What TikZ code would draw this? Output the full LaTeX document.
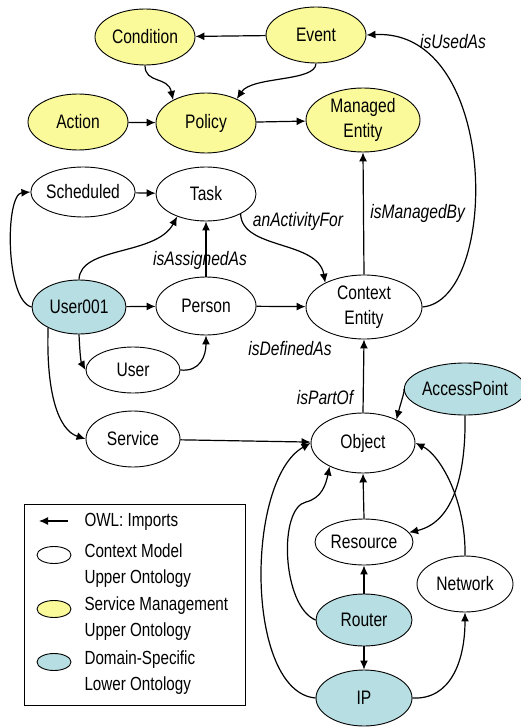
\documentclass[tikz,border=0pt]{standalone}
\usepackage{fontspec}
\setmainfont{Liberation Sans}[FakeStretch=0.8]
\usetikzlibrary{shapes.geometric,arrows.meta}

\definecolor{smyellow}{RGB}{250,250,155}
\definecolor{dsteal}{RGB}{183,222,226}

\tikzset{
  onto/.style={ellipse, draw=black, line width=0.9pt, inner sep=0pt,
    align=center, font=\fontsize{19.5}{25}\selectfont},
  ctx/.style={onto, fill=white},
  svc/.style={onto, fill=smyellow},
  dom/.style={onto, fill=dsteal},
  imp/.style={line width=1.2pt, -{Latex[length=9pt,width=8pt]}},
  rel/.style={font=\fontsize{19.5}{25}\selectfont\itshape},
  legtext/.style={anchor=west, align=left, font=\fontsize{19}{26}\selectfont},
}

\begin{document}
\begin{tikzpicture}[x=1pt,y=-1pt]
\useasboundingbox (0,0) rectangle (520,727);

% ---- service management upper ontology ----
\node[svc, minimum width=100pt, minimum height=56pt] (condition) at (145,37) {Condition};
\node[svc, minimum width=100pt, minimum height=56pt] (event) at (316,35) {Event};
\node[svc, minimum width=100pt, minimum height=56pt] (action) at (78,122) {Action};
\node[svc, minimum width=100pt, minimum height=60pt] (policy) at (206,123) {Policy};
\node[svc, minimum width=114pt, minimum height=64pt] (managed) at (363,120) {Managed\\Entity};

% ---- context model upper ontology ----
\node[ctx, minimum width=94pt, minimum height=50pt] (scheduled) at (83,192) {Scheduled};
\node[ctx, minimum width=100pt, minimum height=54pt] (task) at (206,194) {Task};
\node[ctx, minimum width=100pt, minimum height=58pt] (person) at (206,306) {Person};
\node[ctx, minimum width=116pt, minimum height=64pt] (context) at (364,307) {Context\\Entity};
\node[ctx, minimum width=94pt, minimum height=46pt] (user) at (133,370) {User};
\node[ctx, minimum width=94pt, minimum height=56pt] (service) at (133,439) {Service};
\node[ctx, minimum width=104pt, minimum height=60pt] (object) at (363,443) {Object};
\node[ctx, minimum width=98pt, minimum height=46pt] (resource) at (364,542) {Resource};
\node[ctx, minimum width=96pt, minimum height=56pt] (network) at (465,584) {Network};

% ---- domain-specific lower ontology ----
\node[dom, minimum width=94pt, minimum height=54pt] (user001) at (79,307) {User001};
\node[dom, minimum width=104pt, minimum height=52pt] (ap) at (465,389) {AccessPoint};
\node[dom, minimum width=96pt, minimum height=52pt] (router) at (364,620) {Router};
\node[dom, minimum width=96pt, minimum height=56pt] (ip) at (364,698) {IP};

% ---- imports between ontology classes ----
\draw[imp] (event) -- (condition);
\draw[imp] (condition.south) .. controls (145,84) and (168,76) .. (policy.145);
\draw[imp] (event.south) .. controls (316,82) and (252,76) .. (policy.38);
\draw[imp] (action) -- (policy);
\draw[imp] (policy) -- (managed);

\draw[imp] (context.north) -- node[rel, right, xshift=3pt] {isManagedBy} (managed.south);
\draw[imp] (context.east) .. controls (500,300) and (500,28) .. (event.east);
\node[rel] (lblused) at (453,42) {isUsedAs};

\draw[imp] (scheduled) -- (task);
\draw[imp] (user001.west) .. controls (5,300) and (5,194) .. (scheduled.west);
\draw[imp] (user001.north) .. controls (80,246) and (156,256) .. (task.218);
\draw[imp] (person.north) -- (task.south);
\node[rel] (lblassigned) at (200,260) {isAssignedAs};
\draw[imp] (task.-30) .. controls (242,250) and (318,240) .. (context.148);
\node[rel] (lblactivity) at (298,221) {anActivityFor};

\draw[imp] (user001) -- (person);
\draw[imp] (person) -- (context);
\node[rel] (lbldefined) at (290,349) {isDefinedAs};

\draw[imp] (user001.south) .. controls (80,356) and (81,362) .. (user.west);
\draw[imp] (user.east) .. controls (200,372) and (206,356) .. (person.south);
\draw[imp] (user001.-146) .. controls (46,392) and (58,430) .. (service.west);
\draw[imp] (service) -- (object);

\draw[imp] (object.north) -- (context.south);
\node[rel] (lblpart) at (325,398) {isPartOf};

\draw[imp] (ap.west) .. controls (405,391) and (401,402) .. (object.35);
\draw[imp] (ap.south) .. controls (466,470) and (455,522) .. (resource.12);
\draw[imp] (resource.north) -- (object.south);
\draw[imp] (router.north) -- (resource.south);
\draw[imp] (router.south) -- (ip.north);
\draw[imp] (router.west) .. controls (282,606) and (278,508) .. (306,502)
                          .. controls (322,498) and (326,484) .. (object.-145);
\draw[imp] (ip.west) .. controls (245,692) and (245,480) .. (object.west);
\draw[imp] (ip.east) .. controls (450,700) and (465,662) .. (network.south);
\draw[imp] (network.north) .. controls (466,500) and (440,455) .. (object.east);

% ---- legend ----
\node[draw=black, line width=0.9pt, minimum width=221pt, minimum height=201pt,
      inner sep=0pt] (legend) at (134.5,604.5) {};
\coordinate (legarrowstart) at (68,521);
\coordinate (legarrowend) at (39,521);
\draw[imp] (legarrowstart) -- (legarrowend);
\node[legtext] (legimp) at (81,522) {OWL: Imports};
\node[ctx, minimum width=34pt, minimum height=17pt] (legctx) at (54,555) {};
\node[legtext] (legctxtext) at (81,566) {Context Model\\Upper Ontology};
\node[svc, minimum width=34pt, minimum height=17pt] (legsvc) at (54,609) {};
\node[legtext] (legsvctext) at (81,619) {Service Management\\Upper Ontology};
\node[dom, minimum width=34pt, minimum height=17pt] (legdom) at (54,662) {};
\node[legtext] (legdomtext) at (81,673) {Domain-Specific\\Lower Ontology};
\end{tikzpicture}
\end{document}
